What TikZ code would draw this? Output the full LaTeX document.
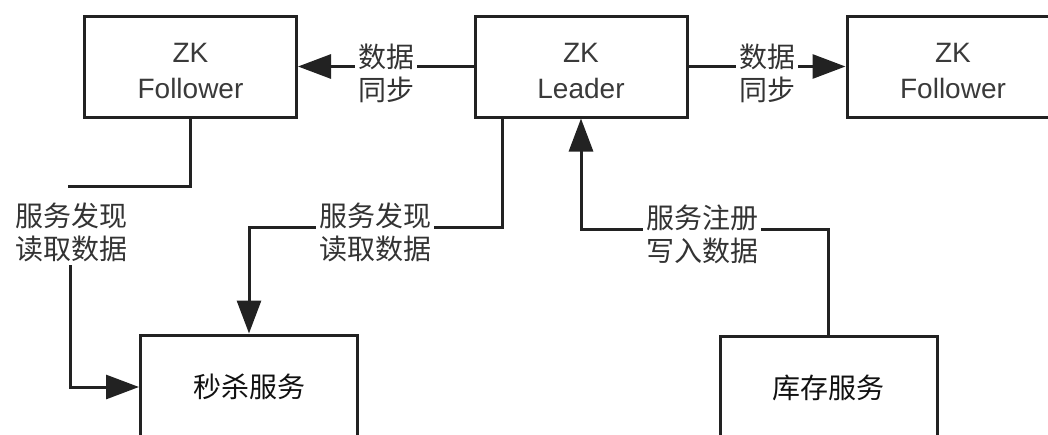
\documentclass[tikz,border=0pt]{standalone}
\usepackage{fontspec}
\setmainfont{Liberation Sans}
\newfontfamily\cjk{Noto Sans CJK SC}
\usetikzlibrary{arrows.meta}
\definecolor{linec}{HTML}{222222}
\definecolor{zktext}{HTML}{3A3A3A}
\definecolor{lbltext}{HTML}{333333}
\definecolor{svctext}{HTML}{111111}
\begin{document}
\begin{tikzpicture}[x=1pt,y=-1pt,
  zkbox/.style={draw=linec,line width=3pt,minimum width=212pt,minimum height=101pt,
    inner sep=0pt,align=center,text=zktext,text height=64pt,font=\fontsize{28}{36}\selectfont},
  svcbox/.style={draw=linec,line width=3pt,minimum width=217pt,minimum height=104pt,
    inner sep=0pt,text=svctext,font=\cjk\fontsize{28}{34}\selectfont},
  lbl/.style={fill=white,inner sep=3pt,align=center,text=lbltext,font=\cjk\fontsize{28}{33}\selectfont},
  conn/.style={draw=linec,line width=3pt},
  arr/.style={conn,-{Triangle[length=33pt,width=24pt]}}
]
\useasboundingbox (0,0) rectangle (1048,434);
\clip (0,0) rectangle (1048,434);
% boxes
\node[zkbox] (f1) at (190.5,66.5) {ZK\\Follower};
\node[zkbox] (ld) at (581,66.5) {ZK\\Leader};
\node[zkbox] (f2) at (953,66.5) {ZK\\Follower};
\node[svcbox] (sk) at (249,387) {秒杀服务};
\node[svcbox] (kc) at (828.5,388) {库存服务};
% data sync arrows
\draw[arr] (ld.west) -- (f1.east);
\node[lbl] (l1) at (386,73) {数据\\同步};
\draw[arr] (ld.east) -- (f2.west);
\node[lbl] (l2) at (767,73) {数据\\同步};
% follower -> seckill
\coordinate (a1) at (68,186);
\coordinate (a2) at (70,265);
\draw[conn] (f1.south) |- (a1);
\node[lbl] (l3) at (71,232) {服务发现\\读取数据};
\draw[arr] (a2) |- (sk.west);
% leader -> seckill
\coordinate (b1) at ([xshift=-79pt]ld.south);
\coordinate (b2) at (375,227);
\draw[arr] (b1) |- (b2) -| (sk.north);
\node[lbl] (l4) at (375,232) {服务发现\\读取数据};
% stock -> leader
\coordinate (c1) at (700,229);
\draw[arr] (kc.north) |- (c1) -| (ld.south);
\node[lbl] (l5) at (702,234) {服务注册\\写入数据};
\end{tikzpicture}
\end{document}
